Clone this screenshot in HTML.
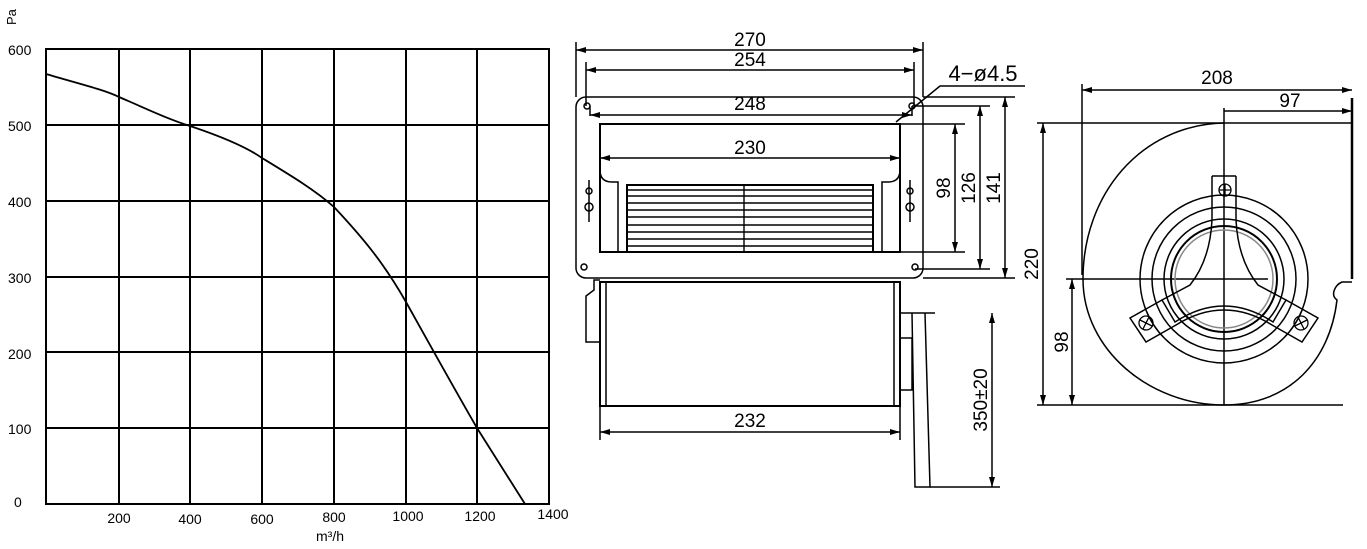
<!DOCTYPE html>
<html><head><meta charset="utf-8"><style>
html,body{margin:0;padding:0;background:#fff;}
svg{display:block;font-family:"Liberation Sans",sans-serif;}
</style></head><body>
<svg width="1367" height="549" viewBox="0 0 1367 549" xmlns="http://www.w3.org/2000/svg">
<defs>
<marker id="a" viewBox="0 0 10 6" refX="10" refY="3" markerWidth="10" markerHeight="6" orient="auto-start-reverse" markerUnits="userSpaceOnUse"><path d="M0,0 L10,3 L0,6 z" fill="#000"/></marker>
</defs>
<g stroke="#000" stroke-width="2" fill="none">
<rect x="46" y="49" width="503" height="455"/>
<path d="M119,49V504M190,49V504M262,49V504M334,49V504M406,49V504M477,49V504"/>
<path d="M46,125H549M46,201H549M46,277H549M46,352H549M46,428H549"/>
<path d="M46,74 C80,84 105,90 119,97 C145,108 165,118 190,126 C220,136 245,146 262,158 C290,175 315,190 334,207 C365,240 385,265 406,302 C430,345 455,390 477,428 L525,504" stroke-width="1.8"/>
</g>
<g font-size="14" fill="#000">
<text x="8" y="55">600</text><text x="8" y="131">500</text><text x="8" y="207">400</text><text x="8" y="283">300</text><text x="8" y="359">200</text><text x="8" y="434">100</text><text x="14" y="507">0</text>
<text x="119" y="523" text-anchor="middle">200</text><text x="190" y="524" text-anchor="middle">400</text><text x="262" y="524" text-anchor="middle">600</text><text x="334" y="522" text-anchor="middle">800</text><text x="408" y="521" text-anchor="middle">1000</text><text x="480" y="521" text-anchor="middle">1200</text><text x="553" y="519" text-anchor="middle">1400</text>
<text x="316" y="541">m³/h</text>
<text transform="translate(16,25) rotate(-90)" font-size="13">Pa</text>
</g>
<g stroke="#000" stroke-width="1.5" fill="none">
<rect x="576" y="97" width="347" height="181" rx="10"/>
<rect x="600" y="124" width="300" height="128" stroke-width="2"/>
<path d="M600,170 q0,12 12,12 h6 v70 M900,170 q0,12 -12,12 h-6 v70"/>
<rect x="627" y="185" width="246" height="67" stroke-width="2"/>
<path d="M627,190H873M627,196H873M627,203H873M627,210H873M627,217H873M627,225H873M627,232H873M627,239H873M627,246H873M744,185V252" stroke-width="1.4"/>
<circle cx="587" cy="106" r="3"/><circle cx="912" cy="106" r="3"/><circle cx="584" cy="267" r="3"/><circle cx="915" cy="267" r="3"/>
<circle cx="589" cy="191" r="3"/><circle cx="589" cy="207" r="4"/><circle cx="910" cy="191" r="3"/><circle cx="910" cy="207" r="4"/>
<path d="M589,180V222M910,180V222"/>
<path d="M576,97V42M923,97V42M586,106V62M914,106V62M590,106V116M912,106V116"/>
<path d="M576,50H923" marker-start="url(#a)" marker-end="url(#a)"/>
<path d="M586,70H914" marker-start="url(#a)" marker-end="url(#a)"/>
<path d="M590,115H912" marker-start="url(#a)" marker-end="url(#a)"/>
<path d="M600,158H900" marker-start="url(#a)" marker-end="url(#a)"/>
<path d="M900,124H965M912,106H990M923,97H1015M923,278H1015M915,269H990M900,252H965"/>
<path d="M955,124V252" marker-start="url(#a)" marker-end="url(#a)"/>
<path d="M980,106V269" marker-start="url(#a)" marker-end="url(#a)"/>
<path d="M1005,97V278" marker-start="url(#a)" marker-end="url(#a)"/>
<path d="M1025,86H940L896,122"/>
<rect x="600" y="282" width="300" height="124" stroke-width="2"/>
<path d="M606,282V406M894,282V406"/>
<path d="M600,280H594V290L586,296V342H600"/>
<path d="M900,313H935M900,338H912V390H900M912,313L915,487H930L925,313"/>
<path d="M600,406V440M900,406V440"/>
<path d="M600,432H900" marker-start="url(#a)" marker-end="url(#a)"/>
<path d="M930,487H1000"/>
<path d="M992,313V487" marker-start="url(#a)" marker-end="url(#a)"/>
</g>
<g font-size="19" fill="#000" text-anchor="middle">
<text x="750" y="46">270</text><text x="750" y="66">254</text><text x="750" y="110">248</text><text x="750" y="154">230</text><text x="750" y="427">232</text>
<text x="983" y="81" font-size="22">4−ø4.5</text>
<text transform="translate(950,188) rotate(-90)">98</text>
<text transform="translate(975,188) rotate(-90)">126</text>
<text transform="translate(1000,188) rotate(-90)">141</text>
<text transform="translate(987,400) rotate(-90)">350±20</text>
</g>
<g stroke="#000" stroke-width="1.5" fill="none">
<path d="M1224,123 C1140,125 1083,195 1083,279 C1083,350 1150,405 1224,405 C1290,405 1330,360 1337,300 C1330,295 1335,285 1342,282 H1352"/>
<path d="M1352,98V279" stroke-width="2.5"/>
<path d="M1082,84V275"/>
<path d="M1082,90H1352" marker-start="url(#a)" marker-end="url(#a)"/>
<path d="M1224,111H1352" marker-end="url(#a)"/>
<path d="M1224,108V405"/>
<path d="M1037,123H1352M1037,405H1343M1066,279H1268"/>
<path d="M1043,123V405" marker-start="url(#a)" marker-end="url(#a)"/>
<path d="M1072,279V405" marker-start="url(#a)" marker-end="url(#a)"/>
<circle cx="1224" cy="279" r="84"/>
<circle cx="1224" cy="279" r="72"/>
<circle cx="1224" cy="279" r="60"/>
<circle cx="1224" cy="279" r="53" stroke-width="2"/>
<circle cx="1224" cy="279" r="49" stroke="#888"/>
<path d="M1212,176V220 Q1210,260 1190,285 L1162,300 M1236,176V220 Q1238,260 1258,285 L1286,300 M1212,176H1236"/>
<path d="M1130,318L1162,300L1175,322Q1224,290 1273,322L1286,300L1318,318L1302,342L1272,325Q1224,295 1176,325L1146,342Z"/>
</g>
<g stroke="#000" stroke-width="1.3" fill="none">
<circle cx="1225" cy="190" r="6"/><path d="M1219,190H1231M1225,184V196"/>
<circle cx="1146" cy="323" r="7"/><path d="M1140,320L1152,326M1143,329L1149,317"/>
<circle cx="1301" cy="323" r="7"/><path d="M1295,326L1307,320M1298,317L1304,329"/>
</g>
<g font-size="19" fill="#000" text-anchor="middle">
<text x="1217" y="84">208</text><text x="1290" y="107">97</text>
<text transform="translate(1038,264) rotate(-90)">220</text>
<text transform="translate(1068,342) rotate(-90)">98</text>
</g>
</svg>
</body></html>
